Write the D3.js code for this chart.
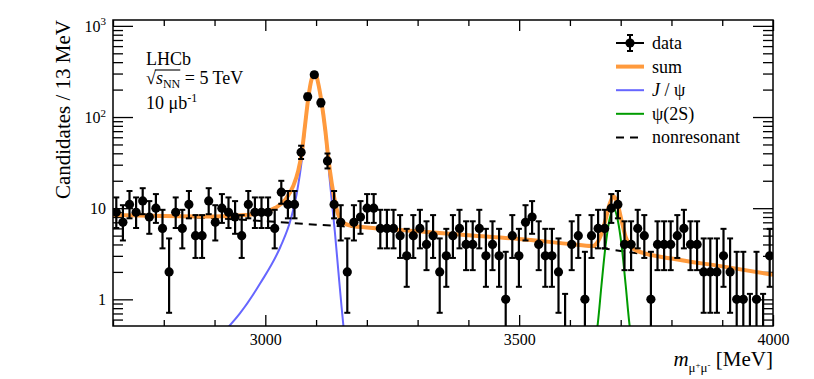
<!DOCTYPE html>
<html>
<head>
<meta charset="utf-8">
<script src="https://d3js.org/d3.v7.min.js"></script>
<style>
  html, body { margin: 0; padding: 0; background: #fff; }
  svg { display: block; font-family: "Liberation Serif", "Times New Roman", serif; }
</style>
</head>
<body>
<div id="chart"></div>
<script>
// histogram binning (MeV)
const massMin = 2700;
const massMax = 4000;
const binWidth = 13;

// candidates per 13 MeV bin
const counts = [
  9, 7, 11, 9, 12, 8, 10, 6, 2, 9,
  6, 11, 5, 5, 12, 7, 10, 9, 8, 5,
  11, 9, 9, 9, 6, 15, 11, 11, 41, 167,
  291, 143, 33, 11, 7, 2, 7, 8, 10, 10,
  6, 6, 6, 5, 3, 5, 6, 4, 5, 2,
  3, 5, 6, 4, 4, 6, 3, 4, 3, 1,
  5, 3, 7, 8, 4, 3, 3, 2, 0, 4,
  5, 1, 5, 6, 6, 10, 11, 4, 4, 6,
  5, 1, 4, 4, 4, 5, 6, 4, 4, 2,
  2, 2, 3, 2, 1, 1, 0, 1, 0, 3,
];

// fit components, sampled from the figure
const sumMass = [2700, 2800, 2900, 2960, 3000, 3020, 3040, 3055, 3065, 3072, 3078, 3085, 3091, 3098, 3104, 3111, 3118, 3124, 3131, 3137, 3144, 3152, 3165, 3200, 3300, 3400, 3500, 3600, 3645, 3655, 3662, 3670, 3678, 3686, 3694, 3702, 3710, 3718, 3730, 3800, 3900, 4000];
const sumVal = [8.4, 8.2, 8.1, 8.4, 9.1, 10.1, 12.5, 17.5, 26, 41, 79, 167, 258, 306, 237, 143, 73, 36, 18.5, 12, 8.4, 7.05, 6.5, 6.15, 5.6, 5.05, 4.6, 4.05, 3.85, 4.3, 5.2, 7.4, 11, 13.5, 11, 7.2, 4.8, 3.9, 3.45, 2.8, 2.3, 1.86];

const jpsiMass = [2915, 2950, 2990, 3030, 3050, 3062, 3072, 3078, 3085, 3091, 3098, 3104, 3111, 3118, 3124, 3131, 3137, 3144, 3150, 3154, 3160];
const jpsiVal = [0.42, 0.70, 1.5, 3.8, 7.5, 14.6, 34, 72, 160, 250, 299, 230, 136, 66, 30, 12, 5.5, 2.0, 0.85, 0.5, 0.25];

const psi2sMass = [3648, 3655, 3662, 3670, 3678, 3686, 3694, 3702, 3710, 3717, 3724];
const psi2sVal = [0.3, 0.55, 1.4, 3.8, 7.5, 10, 7.5, 3.8, 1.4, 0.55, 0.3];

const nonresMass = [2700, 2800, 2900, 3000, 3100, 3200, 3300, 3400, 3500, 3600, 3700, 3800, 3900, 4000];
const nonresVal = [8.4, 8.15, 7.75, 7.2, 6.6, 6.1, 5.6, 5.05, 4.6, 4.05, 3.4, 2.8, 2.3, 1.86];

// axis ticks and labels
const xMajor = [3000, 3500, 4000];
const xMinor = [2700, 2800, 2900, 3100, 3200, 3300, 3400, 3600, 3700, 3800, 3900];
const yMajor = [1, 10, 100, 1000];
const yLabelBase = ['1', '10', '10', '10'];
const yLabelExp = ['', '', '2', '3'];

const legendItems = ['data', 'sum', 'J/ψ', 'ψ(2S)', 'nonresonant'];

const colors = {
  sum: '#ff9a3d',
  jpsi: '#6666ff',
  psi2s: '#009c00',
  nonres: '#000',
};

const width = 814;
const height = 379;
const margin = { top: 20, right: 41, bottom: 53, left: 113 };
const innerW = width - margin.left - margin.right;
const innerH = height - margin.top - margin.bottom;

const svg = d3.select('#chart').append('svg')
  .attr('width', width)
  .attr('height', height);

const x = d3.scaleLinear().domain([massMin, massMax]).range([margin.left, margin.left + innerW]);
const y = d3.scaleLog().domain([0.51, 1160]).range([margin.top + innerH, margin.top]);

// minor log ticks inside the y domain
const yMinor = [];
[0.1, 1, 10, 100].forEach((dec) => {
  for (let k = 2; k <= 9; k += 1) {
    const v = dec * k;
    if (v >= y.domain()[0] && v <= y.domain()[1]) yMinor.push(v);
  }
});

svg.append('clipPath').attr('id', 'plot-clip')
  .append('rect')
  .attr('x', margin.left)
  .attr('y', margin.top)
  .attr('width', innerW)
  .attr('height', innerH);

// ---- axes (ticks pointing inward on all four sides)
function styleAxis(g) {
  g.attr('font-family', null).attr('font-size', 16);
  g.select('.domain').remove();
  g.selectAll('.tick line').attr('stroke', '#000').attr('stroke-width', 1.3);
  g.selectAll('.tick text').attr('fill', '#000');
}

const bottomY = margin.top + innerH;
const rightX = margin.left + innerW;

svg.append('g')
  .attr('transform', `translate(0,${bottomY})`)
  .call(d3.axisBottom(x).tickValues(xMajor).tickSizeInner(-11).tickSizeOuter(0).tickPadding(8).tickFormat(d3.format('d')))
  .call(styleAxis);

svg.append('g')
  .attr('transform', `translate(0,${bottomY})`)
  .call(d3.axisBottom(x).tickValues(xMinor).tickSizeInner(-6).tickSizeOuter(0).tickFormat(''))
  .call(styleAxis);

svg.append('g')
  .attr('transform', `translate(0,${margin.top})`)
  .call(d3.axisTop(x).tickValues(xMajor).tickSizeInner(-11).tickSizeOuter(0).tickFormat(''))
  .call(styleAxis);

svg.append('g')
  .attr('transform', `translate(0,${margin.top})`)
  .call(d3.axisTop(x).tickValues(xMinor).tickSizeInner(-6).tickSizeOuter(0).tickFormat(''))
  .call(styleAxis);

svg.append('g')
  .attr('transform', `translate(${margin.left},0)`)
  .call(d3.axisLeft(y).tickValues(yMajor).tickSizeInner(-20).tickSizeOuter(0).tickPadding(7).tickFormat(() => ''))
  .call(styleAxis)
  .call((g) => g.selectAll('.tick text').each(function (d, i) { // eslint-disable-line func-names
    const t = d3.select(this).text(yLabelBase[i]);
    if (yLabelExp[i]) {
      t.append('tspan').attr('font-size', 11).attr('dy', '-0.55em').text(yLabelExp[i]);
    }
  }));

svg.append('g')
  .attr('transform', `translate(${margin.left},0)`)
  .call(d3.axisLeft(y).tickValues(yMinor).tickSizeInner(-10).tickSizeOuter(0).tickFormat(''))
  .call(styleAxis);

svg.append('g')
  .attr('transform', `translate(${rightX},0)`)
  .call(d3.axisRight(y).tickValues(yMajor).tickSizeInner(-20).tickSizeOuter(0).tickFormat(''))
  .call(styleAxis);

svg.append('g')
  .attr('transform', `translate(${rightX},0)`)
  .call(d3.axisRight(y).tickValues(yMinor).tickSizeInner(-10).tickSizeOuter(0).tickFormat(''))
  .call(styleAxis);

// ---- fit curves
const plot = svg.append('g').attr('clip-path', 'url(#plot-clip)');

function curvePath(masses, values) {
  return d3.line()
    .x((d, i) => x(masses[i]))
    .y((d) => y(d))
    .curve(d3.curveMonotoneX)(values);
}

plot.append('path')
  .attr('d', curvePath(jpsiMass, jpsiVal))
  .attr('fill', 'none')
  .attr('stroke', colors.jpsi)
  .attr('stroke-width', 2);

plot.append('path')
  .attr('d', curvePath(nonresMass, nonresVal))
  .attr('fill', 'none')
  .attr('stroke', colors.nonres)
  .attr('stroke-width', 2)
  .attr('stroke-dasharray', '8,6');

plot.append('path')
  .attr('d', curvePath(sumMass, sumVal))
  .attr('fill', 'none')
  .attr('stroke', colors.sum)
  .attr('stroke-width', 4)
  .attr('stroke-linejoin', 'round');

plot.append('path')
  .attr('d', curvePath(psi2sMass, psi2sVal))
  .attr('fill', 'none')
  .attr('stroke', colors.psi2s)
  .attr('stroke-width', 2);

// ---- data points with Poisson (68%) error bars
const binCenters = counts.map((c, i) => massMin + binWidth * (i + 0.5));
const errLow = (n) => (n === 0 ? 0 : n * (1 - 1 / (9 * n) - 1 / (3 * Math.sqrt(n))) ** 3);
const errHigh = (n) => (n === 0 ? 1.148 : n + Math.sqrt(n + 0.75) + 1);

const yMin = y.domain()[0];
const capHalf = 3;

plot.append('g')
  .selectAll('g')
  .data(counts)
  .enter().append('g')
  .each(function (d, i) { // eslint-disable-line func-names
    const g = d3.select(this);
    const cx = x(binCenters[i]);
    g.append('line')
      .attr('x1', cx).attr('x2', cx)
      .attr('y1', y(Math.max(errLow(d), yMin * 0.8)))
      .attr('y2', y(errHigh(d)))
      .attr('stroke', '#000').attr('stroke-width', 2.2);
    g.append('line')
      .attr('x1', cx - capHalf).attr('x2', cx + capHalf)
      .attr('y1', y(errHigh(d))).attr('y2', y(errHigh(d)))
      .attr('stroke', '#000').attr('stroke-width', 2);
    if (d > 0 && errLow(d) > yMin) {
      g.append('line')
        .attr('x1', cx - capHalf).attr('x2', cx + capHalf)
        .attr('y1', y(errLow(d))).attr('y2', y(errLow(d)))
        .attr('stroke', '#000').attr('stroke-width', 2);
    }
    if (d > 0) {
      g.append('circle')
        .attr('cx', cx)
        .attr('cy', y(d))
        .attr('r', 4.6)
        .attr('fill', '#000');
    }
  });

// ---- frame
svg.append('rect')
  .attr('x', margin.left)
  .attr('y', margin.top)
  .attr('width', innerW)
  .attr('height', innerH)
  .attr('fill', 'none')
  .attr('stroke', '#000')
  .attr('stroke-width', 1.5);

// ---- axis titles
svg.append('text')
  .attr('transform', `translate(70,${margin.top}) rotate(-90)`)
  .attr('text-anchor', 'end')
  .attr('font-size', 21)
  .text('Candidates / 13 MeV');

const xTitle = svg.append('text')
  .attr('x', rightX)
  .attr('y', 366)
  .attr('text-anchor', 'end')
  .attr('font-size', 21);
xTitle.append('tspan').attr('font-style', 'italic').text('m');
xTitle.append('tspan').attr('font-size', 13).attr('dy', 6).text('μ');
xTitle.append('tspan').attr('font-size', 9).attr('dy', -4).text('+');
xTitle.append('tspan').attr('font-size', 13).attr('dy', 4).text('μ');
xTitle.append('tspan').attr('font-size', 9).attr('dy', -4).text('-');
xTitle.append('tspan').attr('dy', -2).text(' [MeV]');

// ---- experiment label
const info = svg.append('g').attr('font-size', 18);
info.append('text').attr('x', 146).attr('y', 65).text('LHCb');

const sq = info.append('text').attr('x', 146).attr('y', 84);
const radical = sq.append('tspan').text('√');
const sVar = sq.append('tspan').attr('font-style', 'italic').text('s');
const sSub = sq.append('tspan').attr('font-size', 12).attr('dy', 4).text('NN');
sq.append('tspan').attr('dy', -4).text(' = 5 TeV');
const barStart = 146 + radical.node().getComputedTextLength() - 1;
const barEnd = barStart + 1 + sVar.node().getComputedTextLength() + sSub.node().getComputedTextLength();
info.append('line')
  .attr('x1', barStart).attr('x2', barEnd)
  .attr('y1', 70).attr('y2', 70)
  .attr('stroke', '#000').attr('stroke-width', 1.1);

const lumi = info.append('text').attr('x', 146).attr('y', 109);
lumi.append('tspan').text('10 μb');
lumi.append('tspan').attr('font-size', 12).attr('dy', -7).text('-1');

// ---- legend
const legend = svg.append('g').attr('font-size', 18);
const legX0 = 616;
const legX1 = 644;
const legY = (i) => 43 + i * 23.6;
const legStyles = [null, [colors.sum, 4, null], [colors.jpsi, 2, null], [colors.psi2s, 2, null], [colors.nonres, 2, '8,6']];

legendItems.forEach((label, i) => {
  const ly = legY(i);
  if (i === 0) {
    legend.append('line').attr('x1', legX0).attr('x2', legX1).attr('y1', ly).attr('y2', ly)
      .attr('stroke', '#000').attr('stroke-width', 2);
    legend.append('line').attr('x1', 630).attr('x2', 630).attr('y1', ly - 8).attr('y2', ly + 8)
      .attr('stroke', '#000').attr('stroke-width', 2);
    [ly - 8, ly + 8].forEach((cy) => legend.append('line')
      .attr('x1', 627).attr('x2', 633).attr('y1', cy).attr('y2', cy)
      .attr('stroke', '#000').attr('stroke-width', 2));
    legend.append('circle').attr('cx', 630).attr('cy', ly).attr('r', 4.6).attr('fill', '#000');
  } else {
    const style = legStyles[i];
    legend.append('line').attr('x1', legX0).attr('x2', legX1).attr('y1', ly).attr('y2', ly)
      .attr('stroke', style[0]).attr('stroke-width', style[1])
      .attr('stroke-dasharray', style[2]);
  }
  const t = legend.append('text').attr('x', 652).attr('y', ly + 6);
  if (label === 'J/ψ') {
    t.append('tspan').attr('font-style', 'italic').text('J');
    t.append('tspan').text(' / ψ');
  } else {
    t.text(label);
  }
});
</script>
</body>
</html>
